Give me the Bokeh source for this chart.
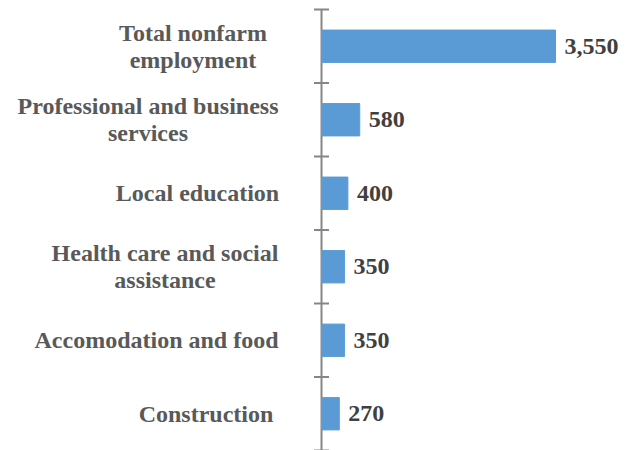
from bokeh.plotting import figure
from bokeh.models import ColumnDataSource, Range1d
from bokeh.core.properties import value
from bokeh.embed import file_html
from bokeh.resources import INLINE

categories = [
    "Total nonfarm\nemployment",
    "Professional and business\nservices",
    "Local education",
    "Health care and social\nassistance",
    "Accomodation and food",
    "Construction",
]
values = [3550, 580, 400, 350, 350, 270]
value_labels = ["3,550", "580", "400", "350", "350", "270"]

# layout: horizontal centre of each category label block (px left of the axis)
label_centers = [-128.5, -173.5, -124, -156.5, -165, -115.5]
line_gap = 0.37  # in category units

n = len(categories)
ypos = [i + 0.5 for i in range(n)]

src = ColumnDataSource(dict(val=values, vlab=value_labels, y=ypos))

lx, ly, lt = [], [], []
for i, cat in enumerate(categories):
    lines = cat.split("\n")
    m = len(lines)
    for k, line in enumerate(lines):
        lx.append(label_centers[i])
        ly.append(ypos[i] + (k - (m - 1) / 2) * line_gap)
        lt.append(line)
lsrc = ColumnDataSource(dict(off=lx, y=ly, t=lt))

bounds = list(range(n + 1))
tsrc = ColumnDataSource(dict(x=[0] * len(bounds), y=bounds))

p = figure(width=632, height=450, output_backend="svg", toolbar_location=None,
           x_range=Range1d(-4870, 4718), y_range=Range1d(6.0, -0.1224),
           x_axis_location=None, y_axis_location=None,
           min_border_left=0, min_border_right=0, min_border_top=0, min_border_bottom=0)
p.outline_line_color = None
p.grid.visible = False
p.background_fill_color = "white"
p.border_fill_color = "white"

# category axis line and boundary ticks
p.segment(x0=0, y0=0, x1=0, y1=n, line_color="#868686", line_width=2)
p.scatter(x="x", y="y", source=tsrc, marker="dash", size=15,
          line_color="#868686", line_width=2)

p.hbar(y="y", right="val", left=0, height=0.44, source=src,
       fill_color="#5B9BD5", line_color="#5B9BD5", line_width=1)

p.text(x="val", y="y", text="vlab", source=src, x_offset=9,
       text_align="left", text_baseline="middle",
       text_font=value("Liberation Serif"), text_font_style="bold",
       text_font_size="24px", text_color="#404040")

p.text(x=0, y="y", text="t", source=lsrc, x_offset="off",
       text_align="center", text_baseline="middle",
       text_font=value("Liberation Serif"), text_font_style="bold",
       text_font_size="24px", text_color="#595959")

open("out.html", "w").write(file_html(p, INLINE))
